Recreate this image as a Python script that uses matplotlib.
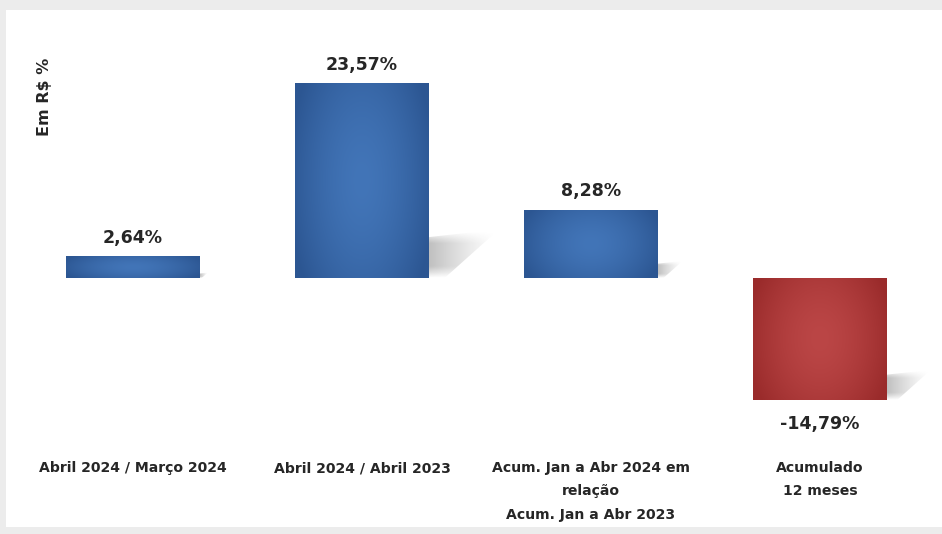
import numpy as np
import matplotlib
matplotlib.use("Agg")
from matplotlib import pyplot as plt
from matplotlib.patches import Rectangle, Polygon
import matplotlib.transforms as mtrans

categories = ["Abril 2024 / Março 2024", "Abril 2024 / Abril 2023",
              "Acum. Jan a Abr 2024 em\nrelação\nAcum. Jan a Abr 2023",
              "Acumulado\n12 meses"]
values = [2.64, 23.57, 8.28, -14.79]
value_labels = ["2,64%", "23,57%", "8,28%", "-14,79%"]

W, H = 942, 534
fig = plt.figure(figsize=(W / 100, H / 100), dpi=100)
fig.patch.set_facecolor("#ececec")
# white panel
fig.patches.append(Rectangle((6 / W, 1 - 527 / H), 1, (527 - 10) / H,
                             transform=fig.transFigure, facecolor="white",
                             edgecolor="none", zorder=-5))

ax = fig.add_axes([0, 0, 1, 1])
ax.set_facecolor("none")
ax.set_zorder(1)
px_x = 229.0
px_y = 8.27
ax.axis("off")


def grad(c_edge, c_mid, n=100):
    yy, xx = np.mgrid[-1:1:n * 1j, -1:1:n * 1j]
    r = np.clip(np.sqrt((xx * 0.9) ** 2 + (yy * 0.6) ** 2), 0, 1)
    t = (1 - r ** 1.6)[..., None]
    c_edge = np.array(matplotlib.colors.to_rgb(c_edge))
    c_mid = np.array(matplotlib.colors.to_rgb(c_mid))
    return c_edge * (1 - t) + c_mid * t


width = 134 / px_x
bars = ax.bar(range(len(values)), values, width=width, color="none", zorder=3)

for i, (b, v) in enumerate(zip(bars, values)):
    x0, y0 = b.get_x(), b.get_y()
    w, h = b.get_width(), b.get_height()
    ylo, yhi = min(y0, y0 + h), max(y0, y0 + h)
    if v >= 0:
        img = grad("#2c5692", "#4275b8")
    else:
        img = grad("#9a2b2b", "#bb4646")
    im = ax.imshow(img, extent=[x0, x0 + w, ylo, yhi], aspect="auto",
                   zorder=3, interpolation="bilinear")
    im.set_clip_path(b)

    # soft shadow at the far end of the bar
    hpx = abs(v) * px_y
    base = ylo
    R = x0 + w
    sw = 0.36 * hpx / px_x
    sh = 0.25 * hpx / px_y
    pts = [(R, base), (R, base + 0.21 * hpx / px_y),
           (R + sw, base + sh), (R + 0.08 * hpx / px_x, base)]
    poly = Polygon(pts, closed=True, facecolor="none", edgecolor="none")
    ax.add_patch(poly)
    n = 60
    yy, xx = np.mgrid[0:1:n * 1j, 0:1:n * 1j]
    a = np.clip(1 - xx, 0, 1) ** 1.3 * 0.55
    a *= np.clip(np.sin(np.pi * np.clip(yy * 1.05, 0, 1)) * 1.4, 0, 1)
    sh_img = np.zeros((n, n, 4))
    sh_img[..., :3] = 0.55
    sh_img[..., 3] = a
    sim = ax.imshow(sh_img, extent=[R, R + sw, base, base + sh],
                    aspect="auto", zorder=2, interpolation="bilinear",
                    origin="lower")
    sim.set_clip_path(poly)

    if v >= 0:
        ax.annotate(value_labels[i], (i, yhi), xytext=(0, 13),
                    textcoords="offset points", ha="center", va="center",
                    fontsize=12.5, fontweight="bold", color="#262626")
    else:
        ax.annotate(value_labels[i], (i, ylo), xytext=(0, -17),
                    textcoords="offset points", ha="center", va="center",
                    fontsize=12.5, fontweight="bold", color="#262626")

ax.set_xlim(-133 / px_x, (W - 133) / px_x)
ax.set_ylim(-(H - 278) / px_y, 278 / px_y)

tr = mtrans.blended_transform_factory(ax.transData, ax.transAxes)
for i, c in enumerate(categories):
    ax.text(i, 1 - 461 / H, c, transform=tr, ha="center", va="top",
            fontsize=10.1, fontweight="bold", color="#262626", linespacing=1.85)

fig.text(45 / W, 1 - 97 / H, "Em R$ %", rotation=90, ha="center", va="center",
         fontsize=11.5, fontweight="bold", color="#262626")

fig.savefig("out.png", dpi=100, facecolor=fig.get_facecolor())
